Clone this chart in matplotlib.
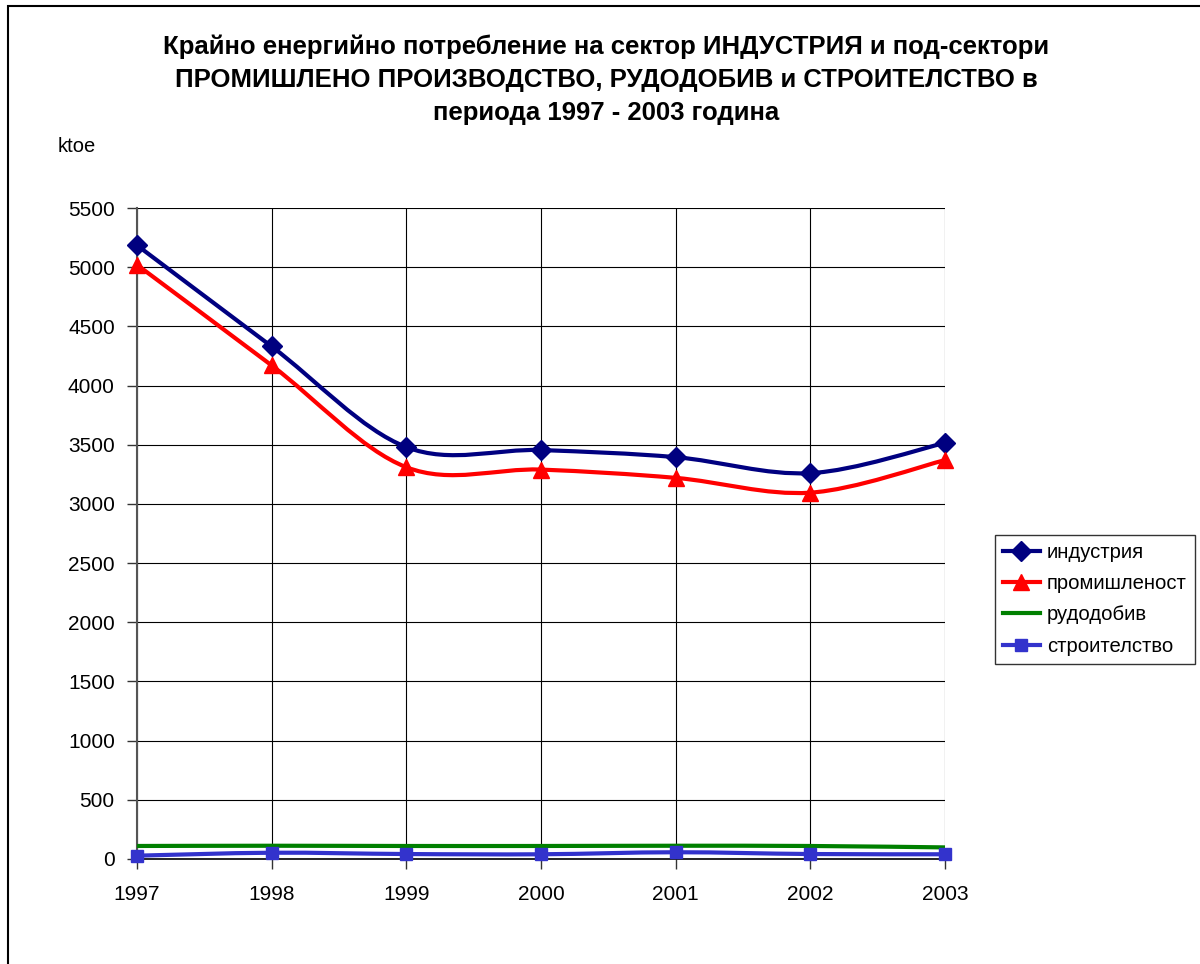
import matplotlib
matplotlib.use("Agg")
import matplotlib.pyplot as plt
from matplotlib.path import Path
from matplotlib.patches import PathPatch, Rectangle
from matplotlib.lines import Line2D

plt.rcParams['font.family'] = ['Liberation Sans', 'DejaVu Sans']

years = [1997, 1998, 1999, 2000, 2001, 2002, 2003]
industry = [5185, 4330, 3480, 3455, 3395, 3260, 3515]
manufacturing = [5020, 4170, 3310, 3290, 3220, 3095, 3370]
mining = [110, 112, 110, 110, 112, 110, 98]
construction = [28, 53, 42, 40, 57, 42, 40]

series_names = ['индустрия', 'промишленост', 'рудодобив', 'строителство']
title_lines = ['Крайно енергийно потребление на сектор ИНДУСТРИЯ и под-сектори',
               'ПРОМИШЛЕНО ПРОИЗВОДСТВО, РУДОДОБИВ и СТРОИТЕЛСТВО в',
               'периода 1997 - 2003 година']
y_ticks = list(range(0, 5501, 500))

colors = ['#000080', '#FF0000', '#008000', '#3333CC']
markers = ['D', '^', None, 's']
msizes = [10, 11, 0, 9]

W, H = 1200, 964
fig = plt.figure(figsize=(W / 100, H / 100), dpi=100)
fig.patch.set_facecolor('white')

# outer chart border
fig.add_artist(Rectangle((8 / W, 0 - 0.05), 1.1, 1 - 5.5 / H + 0.05,
                         transform=fig.transFigure, fill=False,
                         edgecolor='black', linewidth=1.5))

ax = fig.add_axes([137 / W, 1 - 859 / H, (945 - 137) / W, (859 - 208) / H])
ax.set_xlim(1997, 2003)
ax.set_ylim(0, 5500)
ax.set_xticks(years)
ax.set_xticklabels([str(y) for y in years])
ax.set_yticks(y_ticks)
ax.grid(True, color='black', linewidth=0.8)
ax.set_axisbelow(True)
for s in ['top', 'right']:
    ax.spines[s].set_visible(False)
ax.spines['left'].set_color('#555555')
ax.spines['left'].set_linewidth(1.5)
ax.spines['bottom'].set_color('black')
ax.spines['bottom'].set_linewidth(1.2)
ax.tick_params(axis='both', direction='out', length=7, width=1,
               labelsize=15, color='#333333')
ax.tick_params(axis='x', pad=12)
ax.tick_params(axis='y', pad=9)


def smooth_path(xs, ys):
    pts = list(zip(xs, ys))
    n = len(pts)
    verts = [pts[0]]
    codes = [Path.MOVETO]
    for i in range(n - 1):
        p0 = pts[i - 1] if i > 0 else pts[i]
        p1 = pts[i]
        p2 = pts[i + 1]
        p3 = pts[i + 2] if i + 2 < n else pts[i + 1]
        c1 = (p1[0] + (p2[0] - p0[0]) / 6, p1[1] + (p2[1] - p0[1]) / 6)
        c2 = (p2[0] - (p3[0] - p1[0]) / 6, p2[1] - (p3[1] - p1[1]) / 6)
        verts += [c1, c2, p2]
        codes += [Path.CURVE4] * 3
    return Path(verts, codes)


handles = []
all_series = [industry, manufacturing, mining, construction]
for vals, c, m, ms, name in zip(all_series, colors, markers, msizes, series_names):
    patch = PathPatch(smooth_path(years, vals), fill=False, edgecolor=c,
                      linewidth=3, zorder=3, clip_on=False)
    ax.add_patch(patch)
    if m:
        ax.plot(years, vals, linestyle='none', marker=m, markersize=ms,
                color=c, zorder=4, clip_on=False)
    handles.append(Line2D([], [], color=c, linewidth=3, marker=m,
                          markersize=ms, label=name))

leg = fig.legend(handles=handles, loc='upper left',
                 bbox_to_anchor=(995 / W, 1 - 535 / H),
                 frameon=True, fancybox=False, edgecolor='black',
                 fontsize=14.6, handlelength=1.8, handletextpad=0.35,
                 labelspacing=0.6, borderpad=0.4, borderaxespad=0)
leg.get_frame().set_linewidth(1.0)

for line, ypix in zip(title_lines, [47, 80, 113]):
    fig.text(606 / W, 1 - ypix / H, line, ha='center', va='center',
             fontsize=18.5, fontweight='bold')

fig.text(58 / W, 1 - 146 / H, 'ktoe', ha='left', va='center', fontsize=14.5)

fig.savefig('out.png', dpi=100, facecolor='white')
